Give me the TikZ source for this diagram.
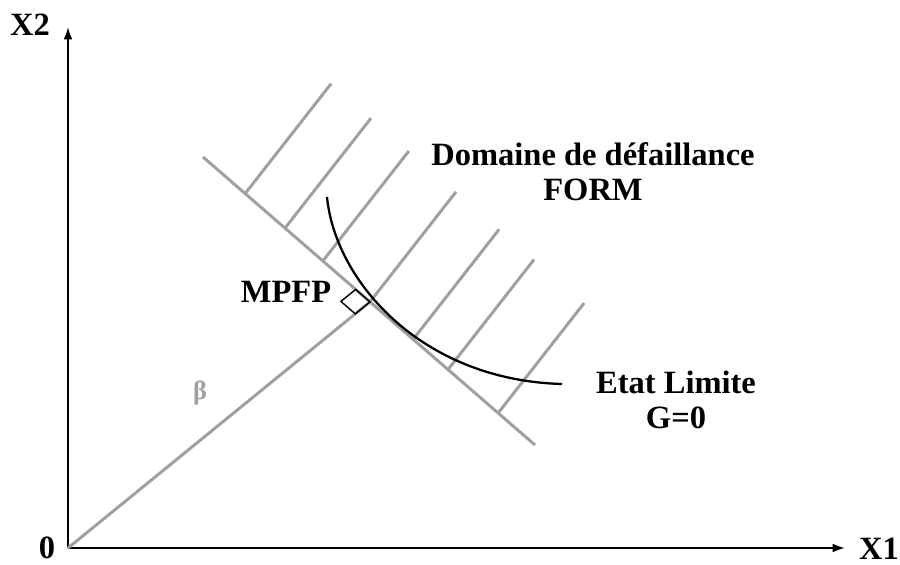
\documentclass[tikz,border=0pt]{standalone}
\usepackage{fontspec}
\setmainfont{Liberation Serif}
\usetikzlibrary{calc,arrows.meta}

\definecolor{hatchgray}{RGB}{160,160,160}

\begin{document}
\begin{tikzpicture}[x=0.02cm, y=-0.02cm,
  axis/.style={draw=black, line width=1.1pt, -{Latex[length=7pt,width=5pt]}},
  gline/.style={draw=hatchgray, line width=1.7pt},
  lbl/.style={font=\fontsize{18.5}{19.8}\selectfont\bfseries, inner sep=0pt, align=center}]
  \useasboundingbox (0,0) rectangle (900,565);

  % axes
  \coordinate (o) at (68,548);
  \coordinate (xend) at (845,548);
  \coordinate (yend) at (68,27);
  \draw[axis] (o) -- (xend);
  \draw[axis] (o) -- (yend);
  \node[lbl] (x1) at (879,549) {X1};
  \node[lbl] (x2) at (30,25) {X2};
  \node[lbl] (zero) at (47,548) {0};

  % tangent line and hatching
  \coordinate (t1) at (203,157);
  \coordinate (t2) at (535,445);
  \draw[gline] (t1) -- (t2);
  \foreach \t in {0.127,0.247,0.361,0.503,0.633,0.738,0.889}
    \draw[gline] ($(t1)!\t!(t2)$) -- ++(86,-110);

  % beta vector to the design point
  \coordinate (mpfp) at ($(t1)!0.503!(t2)$);
  \draw[gline] (o) -- (mpfp);
  \node[text=hatchgray, font=\fontsize{15}{17}\selectfont\bfseries, inner sep=0pt] (beta) at (200,393) {β};

  % right angle
  \coordinate (ra) at ($(mpfp)!0.38cm!(t1)$);
  \coordinate (rb) at ($(mpfp)!0.38cm!(o)$);
  \draw[black, line width=0.8pt] (mpfp) -- (ra) -- ($(ra)+(rb)-(mpfp)$) -- (rb) -- cycle;

  % limit state
  \coordinate (g1) at (327,197);
  \coordinate (g2) at (562,384);
  \draw[black, line width=1.3pt] (g1) .. controls (335,280) and (420,380) .. (g2);

  % labels
  \node[lbl] (mpfplbl) at (286,292) {MPFP};
  \node[lbl] (domaine) at (593,172) {Domaine de défaillance\\FORM};
  \node[lbl] (etat) at (676,400) {Etat Limite\\G=0};
\end{tikzpicture}
\end{document}
